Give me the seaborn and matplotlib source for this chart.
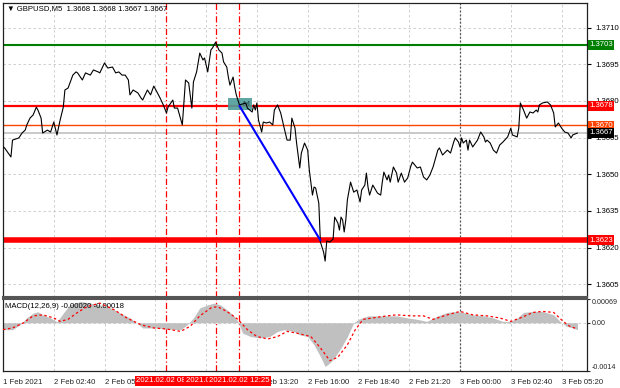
import matplotlib
matplotlib.use('Agg')
import matplotlib.pyplot as plt
import matplotlib.transforms as mtransforms
from matplotlib.patches import Rectangle
import seaborn as sns

# price (M5 closes, bar index from 2 Feb 00:00)
bars = [0, 1, 5, 6, 10, 12, 14, 15, 17, 19, 21, 22, 24, 25, 28, 30, 32, 34, 36, 38,
        39, 41, 44, 46, 47, 50, 52, 55, 57, 60, 61, 64, 66, 69, 71, 73, 75, 77, 79, 80,
        82, 85, 87, 88, 91, 93, 95, 97, 99, 101, 103, 104, 107, 108, 110, 113, 115, 117, 119, 120,
        122, 124, 126, 127, 129, 131, 132, 134, 136, 138, 139, 141, 142, 143, 145, 146, 147, 148, 149, 153,
        154, 157, 158, 159, 160, 161, 163, 164, 166, 168, 170, 171, 173, 175, 177, 179, 181, 182, 184, 185,
        187, 188, 190, 192, 193, 195, 196, 197, 199, 200, 202, 203, 204, 206, 208, 209, 211, 212, 213, 214,
        215, 216, 217, 219, 221, 223, 225, 226, 228, 229, 230, 231, 233, 236, 238, 239, 240, 242, 243, 244,
        246, 248, 249, 251, 253, 255, 257, 258, 261, 263, 265, 267, 269, 271, 274, 275, 277, 280, 282, 284,
        285, 287, 288, 289, 290, 292, 293, 294, 296, 299, 301, 303, 304, 305, 307, 309, 311, 313, 315, 318,
        320, 321, 324, 325, 326, 328, 330, 332, 334, 336, 337, 338, 340, 343, 345, 347, 348, 350, 352, 354,
        356, 358, 359, 362]
close = [1.36613, 1.36608, 1.36571, 1.36640, 1.36649, 1.36669, 1.36681, 1.36702, 1.36730, 1.36743,
         1.36775, 1.36763, 1.36730, 1.36669, 1.36681, 1.36673, 1.36714, 1.36661, 1.36722, 1.36775,
         1.36845, 1.36853, 1.36906, 1.36919, 1.36915, 1.36886, 1.36915, 1.36906, 1.36927, 1.36919,
         1.36915, 1.36956, 1.36935, 1.36939, 1.36915, 1.36919, 1.36906, 1.36906, 1.36886, 1.36825,
         1.36845, 1.36833, 1.36812, 1.36804, 1.36845, 1.36825, 1.36861, 1.36837, 1.36812, 1.36784,
         1.36751, 1.36775, 1.36804, 1.36771, 1.36771, 1.36702, 1.36886, 1.36874, 1.36771, 1.36878,
         1.36919, 1.36996, 1.36968, 1.36976, 1.36919, 1.37009, 1.37017, 1.37041, 1.37009, 1.36996,
         1.36960, 1.36939, 1.36898, 1.36865, 1.36898, 1.36857, 1.36825, 1.36804, 1.36784, 1.36792,
         1.36771, 1.36755, 1.36784, 1.36763, 1.36792, 1.36722, 1.36673, 1.36714, 1.36710, 1.36714,
         1.36702, 1.36763, 1.36784, 1.36751, 1.36694, 1.36640, 1.36640, 1.36730, 1.36689, 1.36628,
         1.36526, 1.36587, 1.36628, 1.36599, 1.36518, 1.36415, 1.36448, 1.36444, 1.36382, 1.36223,
         1.36182, 1.36145, 1.36227, 1.36223, 1.36235, 1.36325, 1.36301, 1.36272, 1.36325, 1.36313,
         1.36264, 1.36313, 1.36395, 1.36468, 1.36427, 1.36436, 1.36387, 1.36436, 1.36456, 1.36505,
         1.36448, 1.36415, 1.36456, 1.36423, 1.36415, 1.36468, 1.36509, 1.36477, 1.36497, 1.36468,
         1.36530, 1.36505, 1.36468, 1.36505, 1.36468, 1.36485, 1.36534, 1.36550, 1.36526, 1.36530,
         1.36489, 1.36477, 1.36497, 1.36530, 1.36599, 1.36608, 1.36579, 1.36599, 1.36587, 1.36632,
         1.36649, 1.36632, 1.36612, 1.36649, 1.36628, 1.36640, 1.36599, 1.36640, 1.36612, 1.36640,
         1.36673, 1.36653, 1.36632, 1.36640, 1.36628, 1.36599, 1.36587, 1.36620, 1.36632, 1.36653,
         1.36689, 1.36661, 1.36653, 1.36689, 1.36792, 1.36763, 1.36730, 1.36755, 1.36751, 1.36763,
         1.36755, 1.36784, 1.36792, 1.36796, 1.36784, 1.36751, 1.36694, 1.36710, 1.36689, 1.36673,
         1.36669, 1.36649, 1.36661, 1.36669]

# MACD(12,26,9)
hist_bars = [0, 6, 11, 15, 19, 22, 25, 30, 34, 38, 42, 49, 55, 61, 68, 74, 80, 85, 88, 97,
             103, 112, 116, 120, 124, 129, 133, 137, 141, 145, 148, 151, 156, 162, 168, 173, 177, 183, 187, 192,
             196, 200, 203, 205, 208, 213, 217, 221, 224, 230, 236, 242, 248, 255, 261, 267, 274, 280, 286, 290,
             296, 303, 309, 315, 320, 324, 328, 334, 340, 347, 351, 355, 359, 362]
hist_vals = [-0.00020, -0.00020, -0.00005, 0.00015, 0.00028, 0.00032, 0.00023, 0.00014, 0.00003, 0.00028,
             0.00052, 0.00062, 0.00057, 0.00052, 0.00043, 0.00028, 0.00014, -0.00003, -0.00015, -0.00015,
             -0.00018, -0.00020, -0.00006, 0.00014, 0.00043, 0.00052, 0.00057, 0.00052, 0.00038, 0.00023,
             0.00004, -0.00030, -0.00040, -0.00044, -0.00040, -0.00025, -0.00020, -0.00025, -0.00035, -0.00040,
             -0.00064, -0.00098, -0.00127, -0.00120, -0.00107, -0.00073, -0.00040, 0.00000, 0.00010, 0.00020,
             0.00020, 0.00020, 0.00020, 0.00014, 0.00010, 0.00004, 0.00020, 0.00030, 0.00033, 0.00030,
             0.00023, 0.00020, 0.00014, 0.00004, 0.00004, 0.00014, 0.00030, 0.00033, 0.00033, 0.00023,
             0.00004, -0.00010, -0.00015, -0.00020]
sig_bars = [0, 6, 13, 19, 25, 32, 36, 41, 47, 53, 61, 70, 78, 87, 95, 103, 112, 118, 124, 131,
            135, 141, 148, 154, 160, 167, 173, 179, 185, 194, 200, 206, 211, 217, 222, 227, 233, 242, 248, 257,
            265, 271, 280, 288, 296, 305, 313, 320, 326, 334, 340, 347, 353, 357, 362]
sig_vals = [-0.00020, -0.00015, 0.00000, 0.00020, 0.00023, 0.00014, 0.00004, 0.00010, 0.00030, 0.00047,
            0.00057, 0.00038, 0.00014, -0.00006, -0.00015, -0.00018, -0.00025, -0.00010, 0.00020, 0.00043,
            0.00047, 0.00033, 0.00010, -0.00020, -0.00040, -0.00047, -0.00040, -0.00025, -0.00030, -0.00040,
            -0.00073, -0.00110, -0.00100, -0.00064, -0.00020, 0.00010, 0.00014, 0.00020, 0.00023, 0.00020,
            0.00020, 0.00010, 0.00023, 0.00033, 0.00023, 0.00020, 0.00014, 0.00004, 0.00014, 0.00030,
            0.00033, 0.00030, 0.00004, -0.00010, -0.00018]

price_ticks = [1.3605, 1.3620, 1.3635, 1.3650, 1.3665, 1.3680, 1.3695, 1.3710]
time_ticks = [0, 32, 64, 96, 128, 160, 192, 224, 256, 288, 320, 352]
time_labels = ['1 Feb 2021', '2 Feb 02:40', '2 Feb 05:20', '2 Feb 08:00', '2 Feb 10:40', '2 Feb 13:20',
               '2 Feb 16:00', '2 Feb 18:40', '2 Feb 21:20', '3 Feb 00:00', '3 Feb 02:40', '3 Feb 05:20']
day_breaks = [288]

level_prices = [1.3703, 1.3678, 1.3670, 1.3667, 1.3623]
level_colors = ['#008000', '#ff0000', '#ff4500', '#c0c0c0', '#ff0000']
level_widths = [1.5, 1.6, 1.0, 1.2, 4.0]
label_colors = ['#008000', '#ff0000', '#ff4500', '#000000', '#ff0000']

signal_bars = [103, 134, 149]
signal_labels = ['2021.02.02 08:35', '2021.02.02 11:10', '2021.02.02 12:25']
trend_bars = [149, 200]
trend_prices = [1.3678, 1.3623]
box_bars = [142, 157]
box_prices = [1.36763, 1.36812]

sns.set_style('white')
plt.rcParams['font.family'] = ['Liberation Sans', 'DejaVu Sans']
FS = 5.6
grid_kw = dict(color='#c8c8c8', lw=0.6, linestyle=(0, (3, 3)), zorder=0)

fig = plt.figure(figsize=(6.2, 3.88), dpi=100)
ax = fig.add_axes([3 / 620, 91 / 388, 584 / 620, 294 / 388])
ax2 = fig.add_axes([3 / 620, 17 / 388, 584 / 620, 72 / 388], sharex=ax)

# main panel
for v in price_ticks:
    ax.axhline(v, **grid_kw)
for t in time_ticks[1:]:
    ax.axvline(t, **grid_kw)
    ax2.axvline(t, **grid_kw)
for t in day_breaks:
    ax.axvline(t, color='#555555', lw=0.9, linestyle=(0, (1.5, 1.5)), zorder=1)
    ax2.axvline(t, color='#555555', lw=0.9, linestyle=(0, (1.5, 1.5)), zorder=1)

for p, c, w in zip(level_prices, level_colors, level_widths):
    ax.axhline(p, color=c, lw=w, zorder=2)

for b in signal_bars:
    ax.axvline(b, color='red', lw=0.9, linestyle=(0, (5, 2, 1, 2)), zorder=2)
    ax2.axvline(b, color='red', lw=0.9, linestyle=(0, (5, 2, 1, 2)), zorder=2)

ax.add_patch(Rectangle((box_bars[0], box_prices[0]), box_bars[1] - box_bars[0],
                       box_prices[1] - box_prices[0], color='#4f9d9b', alpha=0.9, lw=0, zorder=3))
ax.text(box_bars[1] - 4, sum(box_prices) / 2, 'M', fontsize=6, color='#1e4a48',
        ha='center', va='center', zorder=4)

sns.lineplot(x=bars, y=close, ax=ax, color='black', lw=0.8, zorder=5)
ax.plot(trend_bars, trend_prices, color='#0000ff', lw=1.5, zorder=6)

ax.set_xlim(0.2, 368)
ax.set_ylim(1.35998, 1.37201)
ax.yaxis.tick_right()
ax.set_yticks(price_ticks)
ax.set_yticklabels([f'{v:.4f}' for v in price_ticks])
ax.tick_params(axis='y', length=3, width=0.8, pad=3, labelsize=FS, colors='black')
ax.tick_params(axis='x', length=0, labelbottom=False)
ax.set_xlabel('')
ax.set_ylabel('')

ytrans = mtransforms.blended_transform_factory(ax.transAxes, ax.transData)
for p, c in zip(level_prices, label_colors):
    ax.text(1.004, p, f'{p:.4f}', transform=ytrans, fontsize=FS, color='white', ha='left', va='center',
            clip_on=False, zorder=10, bbox=dict(boxstyle='square,pad=0.18', fc=c, ec='none'))

ax.text(0.006, 0.982, '▼ GBPUSD,M5  1.3668 1.3668 1.3667 1.3667', transform=ax.transAxes,
        fontsize=FS, color='black', ha='left', va='center')

# MACD panel
ax2.axhline(0, **grid_kw)
ax2.fill_between(hist_bars, 0, hist_vals, color='#c0c0c0', lw=0, zorder=2)
sns.lineplot(x=sig_bars, y=sig_vals, ax=ax2, color='red', lw=0.9, linestyle=(0, (2, 2)), zorder=4)
ax2.set_ylim(-0.0014, 0.00069)
ax2.yaxis.tick_right()
ax2.set_yticks([-0.0014, 0.0, 0.00069])
ax2.set_yticklabels(['-0.0014', '0.00', '0.00069'])
ax2.tick_params(axis='y', length=2, width=0.8, pad=1.5, labelsize=5.1)
ylabs = ax2.get_yticklabels()
ylabs[0].set_verticalalignment('bottom')
ylabs[2].set_verticalalignment('top')
ax2.set_xticks(time_ticks)
ax2.set_xticklabels(time_labels)
for lbl in ax2.get_xticklabels():
    lbl.set_horizontalalignment('left')
ax2.tick_params(axis='x', length=3, width=0.8, pad=2.5, labelsize=FS)
ax2.set_xlabel('')
ax2.set_ylabel('')
ax2.text(0.004, 0.9, 'MACD(12,26,9) -0.00020 -0.00018', transform=ax2.transAxes,
         fontsize=FS, color='black', ha='left', va='center')

xtrans = mtransforms.blended_transform_factory(ax2.transData, ax2.transAxes)
for b, s in zip(signal_bars, signal_labels):
    ax2.text(b, -0.135, s, transform=xtrans, fontsize=FS, color='white', ha='center', va='center',
             clip_on=False, zorder=10, bbox=dict(boxstyle='square,pad=0.2', fc='#ff0000', ec='none'))

for a in (ax, ax2):
    for side in ('left', 'right', 'top', 'bottom'):
        a.spines[side].set_visible(True)
        a.spines[side].set_color('#222222')
        a.spines[side].set_linewidth(0.9)
ax.spines['bottom'].set_color('#555555')
ax.spines['bottom'].set_linewidth(1.5)
ax2.spines['top'].set_color('#555555')
ax2.spines['top'].set_linewidth(1.5)

fig.savefig('out.png', dpi=100, facecolor='white')
